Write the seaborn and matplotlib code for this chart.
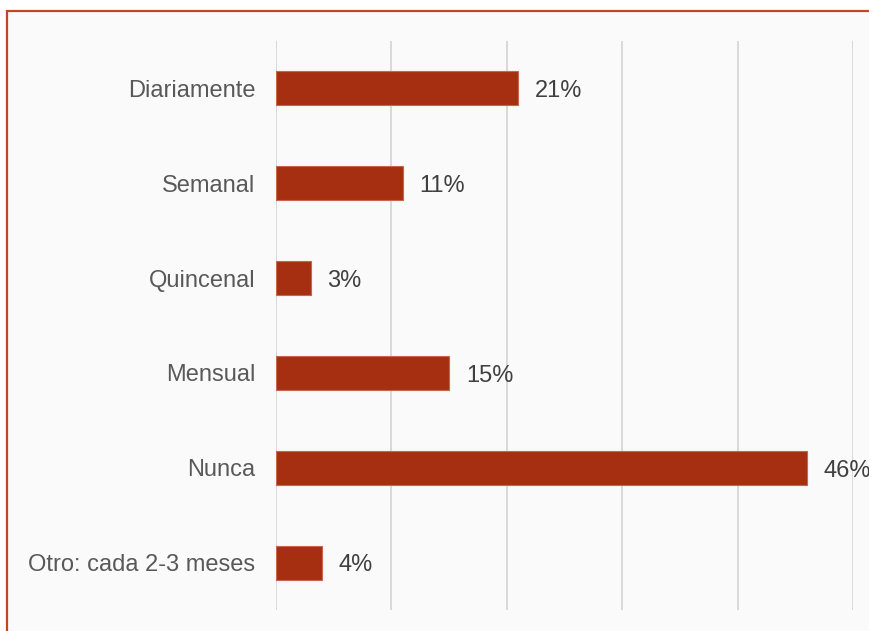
import matplotlib
matplotlib.use("Agg")
import matplotlib.pyplot as plt
from matplotlib.patches import Rectangle
import seaborn as sns
import pandas as pd

categories = ["Diariamente", "Semanal", "Quincenal", "Mensual", "Nunca", "Otro: cada 2-3 meses"]
values = [21, 11, 3, 15, 46, 4]
labels = ["21%", "11%", "3%", "15%", "46%", "4%"]
xticks = [0, 10, 20, 30, 40, 50]

sns.set_theme(style="white")
plt.rcParams['font.family'] = ['Liberation Sans', 'DejaVu Sans']

W, H = 869, 631
fig = plt.figure(figsize=(W / 100, H / 100), dpi=100)
fig.patch.set_facecolor("white")
# bordered background panel
fig.patches.append(Rectangle((7 / W, -0.05), 1.1, 1 - 11 / H + 0.05, transform=fig.transFigure,
                             facecolor="#FAFAFA", edgecolor="#C0462A", linewidth=1.6, zorder=-5))

ax = fig.add_axes([276 / W, 1 - 610 / H, (853 - 276) / W, (610 - 41) / H])
ax.set_zorder(2)
ax.set_facecolor("none")

df = pd.DataFrame({"cat": categories, "val": values})
sns.barplot(data=df, x="val", y="cat", orient="h", width=0.36, color="#A62F11",
            saturation=1, edgecolor="#C8654D", linewidth=0.8, ax=ax, zorder=3)

ax.set_xlim(0, 50)
ax.set_ylim(5.5, -0.5)
for t in xticks:
    ax.axvline(t, color="#D9D9D9", linewidth=1.4, zorder=1)

for i, (v, lab) in enumerate(zip(values, labels)):
    ax.annotate(lab, xy=(v, i), xytext=(12, -6.3), textcoords="offset points",
                ha="left", va="baseline", fontsize=17, color="#404040", zorder=4,
                annotation_clip=False)

ax.set_xticks([])
ax.tick_params(axis="y", length=0, pad=15, labelsize=17, labelcolor="#595959")
ax.set_xlabel("")
ax.set_ylabel("")
for s in ax.spines.values():
    s.set_visible(False)

fig.savefig("out.png", dpi=100, facecolor=fig.get_facecolor())
